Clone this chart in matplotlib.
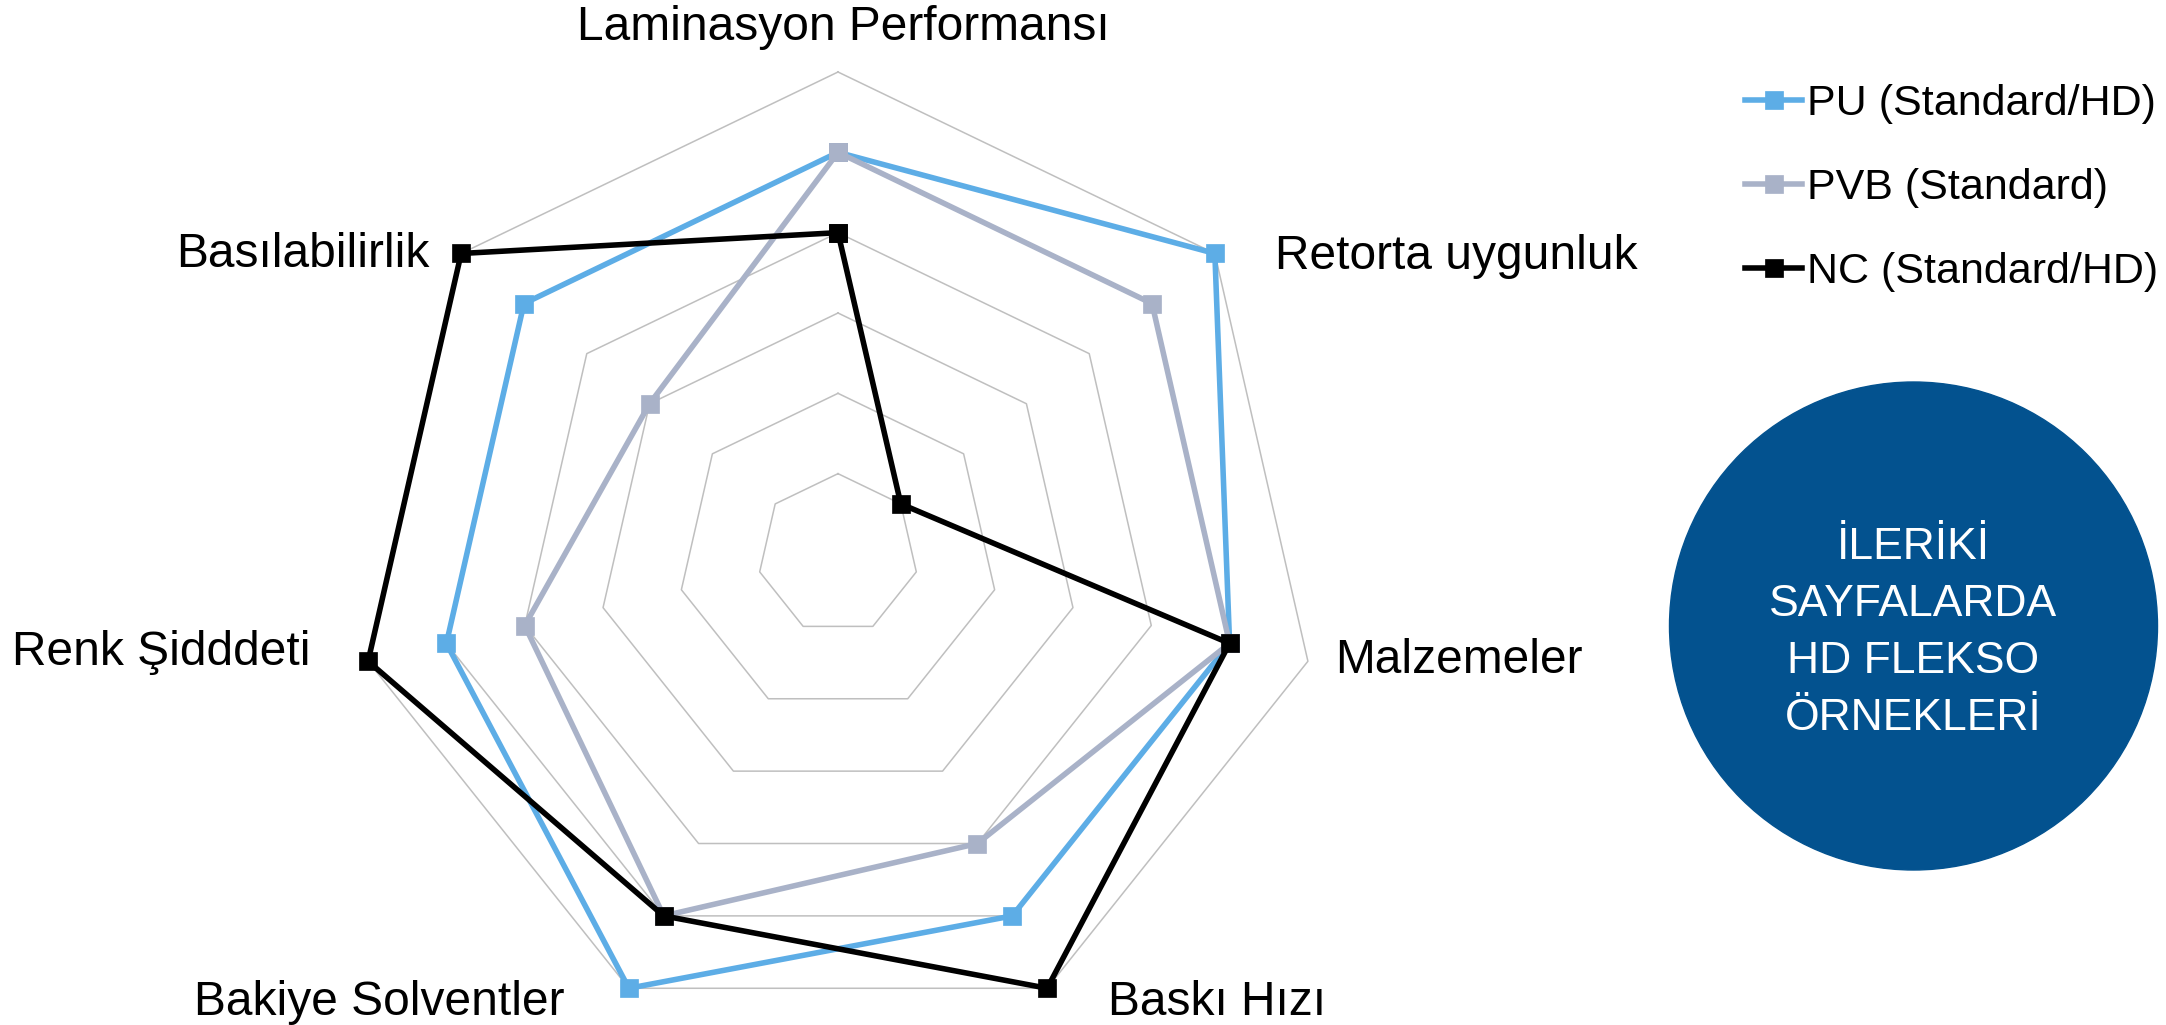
import numpy as np
import matplotlib
matplotlib.use('Agg')
import matplotlib.pyplot as plt
from matplotlib.patches import Ellipse

plt.rcParams['font.family'] = ['Liberation Sans', 'DejaVu Sans']

# veri
kategoriler = ['Laminasyon Performansı', 'Retorta uygunluk', 'Malzemeler', 'Baskı Hızı',
               'Bakiye Solventler', 'Renk Şidddeti', 'Basılabilirlik']
seri_adlari = ['PU (Standard/HD)', 'PVB (Standard)', 'NC (Standard/HD)']
pu = [5, 6, 5, 5, 6, 5, 5]
pvb = [5, 5, 5, 4, 5, 4, 3]
nc = [4, 1, 5, 6, 5, 6, 6]
halkalar = [1, 2, 3, 4, 5, 6]
daire_metni = ['İLERİKİ', 'SAYFALARDA', 'HD FLEKSO', 'ÖRNEKLERİ']

renkler = ['#5DADE6', '#A9B2C8', '#000000']

W, H = 2166, 1025
fig = plt.figure(figsize=(W / 100, H / 100), dpi=100)

# radar eksenleri: merkez (838, 554) px, yaricap 482 px
cx, cy, R = 838, H - 554, 482
ax = fig.add_axes([(cx - R) / W, (cy - R) / H, 2 * R / W, 2 * R / H], projection='polar')
ax.set_theta_zero_location('N')
ax.set_theta_direction(-1)
ax.set_ylim(0, 6)
ax.set_axis_off()

n = len(kategoriler)
theta = np.arange(n) * 2 * np.pi / n
theta_k = np.append(theta, theta[0])

# izgara heptagonlari
for r in halkalar:
    ax.plot(theta_k, [r] * (n + 1), color='#BFBFBF', lw=1.1, clip_on=False, zorder=1)

for vals, ad, c in zip([pu, pvb, nc], seri_adlari, renkler):
    v = vals + vals[:1]
    ax.plot(theta_k, v, color=c, lw=4.0, marker='s', ms=13.5, mec=c, mew=0.5,
            label=ad, clip_on=False, zorder=3)

# kategori etiketleri (px offsetleri)
ofsetler = [(5, 32, 'center'), (60, -16, 'left'), (27, -12, 'left'), (61, -27, 'left'),
            (-64, -27, 'right'), (-58, -4, 'right'), (-32, -14, 'right')]
for t, lab, (dx, dy, ha) in zip(theta, kategoriler, ofsetler):
    ax.annotate(lab, xy=(t, 6), xytext=(dx, dy), textcoords='offset pixels',
                ha=ha, va='baseline', fontsize=34.5, color='black', annotation_clip=False)

leg = fig.legend(loc='upper left', bbox_to_anchor=(1745 / W, 1 - 84 / H), frameon=False,
                 fontsize=31, handlelength=1.33, handletextpad=0.12, labelspacing=1.02,
                 borderpad=0, borderaxespad=0, numpoints=1)

# mavi daire
fig.add_artist(Ellipse((1913.5 / W, 1 - 626 / H), 488 / W, 488 / H,
                       transform=fig.transFigure, color='#03528F', zorder=0))
for satir, yb in zip(daire_metni, [559, 616, 673, 730]):
    fig.text(1913.5 / W, 1 - yb / H, satir, ha='center', va='baseline',
             fontsize=32, color='white')

fig.savefig('out.png', dpi=100)
